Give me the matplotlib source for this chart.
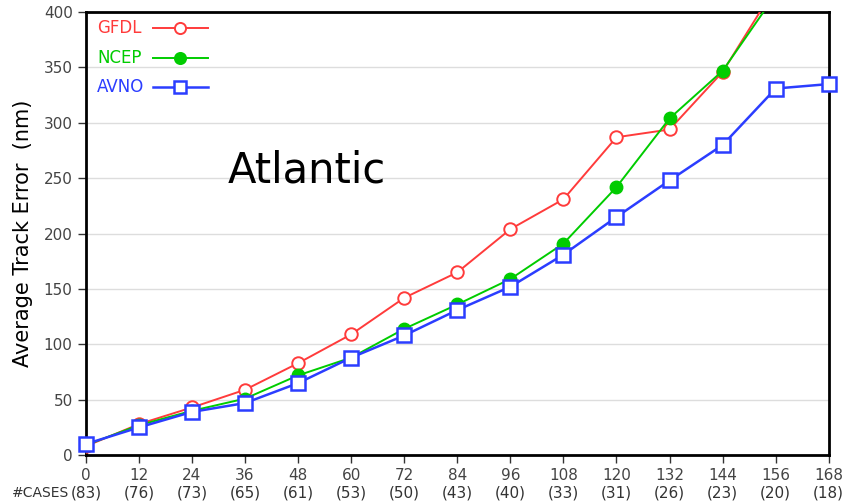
import matplotlib
matplotlib.use("Agg")
import matplotlib.pyplot as plt

hours = [0, 12, 24, 36, 48, 60, 72, 84, 96, 108, 120, 132, 144, 156, 168]
cases = ["(83)", "(76)", "(73)", "(65)", "(61)", "(53)", "(50)", "(43)",
         "(40)", "(33)", "(31)", "(26)", "(23)", "(20)", "(18)"]

gfdl = [8, 28, 43, 59, 83, 109, 142, 165, 204, 231, 287, 294, 346, 423]
ncep = [9, 27, 40, 51, 72, 88, 114, 136, 159, 191, 242, 304, 347, 416]
avno = [10, 25, 39, 47, 65, 88, 108, 131, 152, 181, 215, 248, 280, 331, 335]

red = "#ff3b3b"
green = "#00cc00"
blue = "#2b3dff"

fig = plt.figure(figsize=(8.5, 5.04), dpi=100)
ax = fig.add_axes([0.101, 0.097, 0.874, 0.879])

ax.plot(hours[:len(gfdl)], gfdl, color=red, lw=1.4, marker="o", ms=9,
        mfc="white", mec=red, mew=1.4, clip_on=True, zorder=3)
ax.plot(hours[:len(ncep)], ncep, color=green, lw=1.4, marker="o", ms=9,
        mfc=green, mec=green, clip_on=True, zorder=4)
ax.plot(hours, avno, color=blue, lw=1.8, marker="s", ms=10,
        mfc="white", mec=blue, mew=1.8, clip_on=False, zorder=5)

ax.set_xlim(0, 168)
ax.set_ylim(0, 400)
ax.set_xticks(hours)
ax.set_yticks(range(0, 401, 50))
ax.tick_params(axis="both", colors="#333333", labelsize=11, length=6, width=1)
ax.tick_params(axis="both", labelcolor="#444444")
for y in range(50, 400, 50):
    ax.axhline(y, color="#dddddd", lw=1, zorder=1)
for s in ax.spines.values():
    s.set_linewidth(2)
    s.set_color("black")

ax.set_ylabel("Average Track Error  (nm)", fontsize=15, labelpad=8)

# case counts row
ax.text(-0.022, -0.086, "#CASES", transform=ax.transAxes, fontsize=10,
        color="#333333", ha="right", va="center")
for h, c in zip(hours, cases):
    ax.annotate(c, xy=(h, 0), xycoords=("data", "axes fraction"),
                xytext=(0, -27.5), textcoords="offset points",
                ha="center", va="center", fontsize=11, color="#333333")

ax.text(50, 257, "Atlantic", fontsize=30, ha="center", va="center")

# legend
entries = [("GFDL", red, "o", "white", 1.4),
           ("NCEP", green, "o", green, 1.4),
           ("AVNO", blue, "s", "white", 1.8)]
for i, (name, col, mk, face, lw) in enumerate(entries):
    yy = 0.963 - i * 0.066
    ax.text(0.015, yy, name, transform=ax.transAxes, color=col,
            fontsize=12, va="center", ha="left")
    ax.plot([0.09, 0.164], [yy, yy], transform=ax.transAxes, color=col, lw=lw)
    ax.plot([0.127], [yy], transform=ax.transAxes, marker=mk, ms=8,
            mfc=face, mec=col, mew=lw, color=col)

fig.savefig("out.png", dpi=100)
